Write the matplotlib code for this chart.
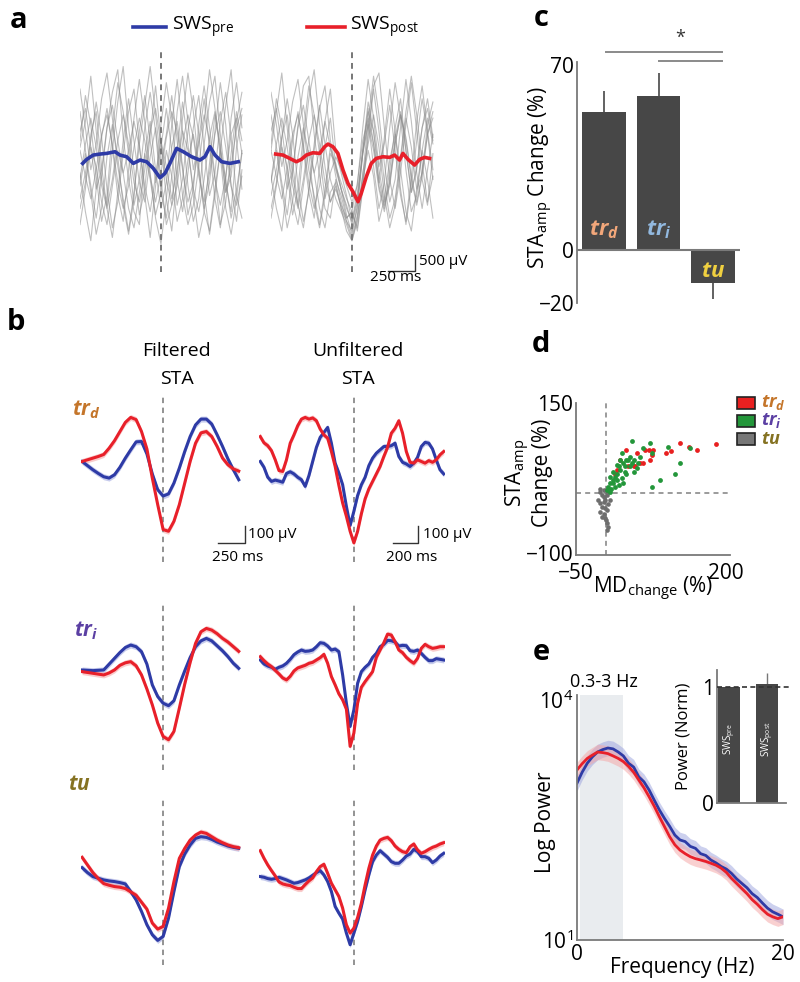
import numpy as np
import matplotlib
matplotlib.use("Agg")
import matplotlib.pyplot as plt
import matplotlib.patches as mpatches

plt.rcParams['font.family'] = ['Open Sans', 'DejaVu Sans']
plt.rcParams['mathtext.fontset'] = 'custom'
plt.rcParams['mathtext.rm'] = 'Open Sans'
plt.rcParams['mathtext.it'] = 'Open Sans:italic:bold'
plt.rcParams['mathtext.bf'] = 'Open Sans:bold'

# ---------------- data ----------------
# panel a: single-trial raw traces (uV) and their means, time in ms
t_a = np.arange(-750, 751, 50)
gray_pre = [
    [400, 1200, 2600, 900, -600, -1400, 300, 1800, 2900, 1000, -300, -1700, -900, 800, 2300, 600, -1200, -2200, -500, 1300, 2700, 1500, -200, -1500, -700, 900, 2400, 1100, -800, -1900, -300],
    [-1200, -400, 600, 1800, 700, -900, -2100, -1300, 200, 1500, 2200, 500, -1100, -2400, -800, 400, 1600, 300, -1400, -600, 900, 2000, 800, -1000, -2300, -1100, 300, 1700, 2800, 600, -900],
    [1500, 300, -800, -1800, -500, 1000, 2100, 2800, 700, -600, -1600, -2000, 200, 1200, -300, -1500, -700, 1100, 2500, 900, -800, -1900, -1200, 500, 1800, 2600, 800, -700, -1600, 400, 1400],
    [-400, -1600, -2500, -900, 700, 1600, 400, -1100, -1900, -300, 1300, 2500, 1200, -400, -1800, -2600, -1200, 400, 1200, -200, -1700, -900, 1100, 2300, 1000, -500, -2000, -1300, 200, 1500, 600],
    [2200, 1000, -300, 500, 1900, 2700, 1300, -200, -1200, -2200, -1000, 500, 1700, 2900, 1400, -100, 800, 2000, 600, -1100, -2000, -1400, -200, 1200, 2800, 1600, 100, -1500, -2300, -1200, 300],
    [-2000, -900, 800, 1500, -200, -1500, -2400, -1000, 600, 1900, 600, -700, -1300, 100, 1000, -600, -2000, -1400, 300, 1800, 500, -1100, -2400, -1600, -100, 1400, 500, -1000, -500, 1200, 2100],
    [600, 2000, 1100, -500, -1900, -1100, 900, 2400, 1500, 200, -1400, -600, 1000, 2100, 900, -1000, -1800, -500, 1500, 2600, 1200, -300, 600, 1900, 400, -1200, -2100, -600, 1300, 2400, 1000],
    [-800, 200, -1000, -2300, -1500, 100, 1100, 100, -1400, -2300, -1200, 900, 2000, 600, -700, 1100, 2400, 1300, -600, -1600, -400, 1000, 2000, 400, -1100, -400, 1200, 2100, 700, -1100, -1800],
    [300, -500, -1200, -300, 800, 1400, 500, -700, -1500, -800, 400, 1300, 600, -500, -1300, -400, 700, 1500, 900, -300, -1300, -700, 500, 1400, 600, -600, -1400, -500, 800, 1300, 200],
    [-600, 500, 1300, 400, -800, -1500, -600, 600, 1400, 500, -700, -1300, -300, 900, 1600, 500, -600, -1400, -800, 500, 1400, 700, -500, -1300, -400, 800, 1500, 400, -800, -1400, -500],
    [900, 1600, 400, -900, -300, 1000, 1700, 600, -400, 300, 1200, 400, -800, -1600, -500, 600, -200, -1200, -300, 900, 300, -900, -1600, -600, 700, 1500, 300, -1000, -200, 1000, 1600],
    [-1500, -700, 400, -200, -1300, -2000, -800, 300, -400, -1500, -2100, -1000, 200, -600, -1700, -1000, 300, -500, -1900, -1200, 0, 800, -300, -1600, -2200, -900, 300, -600, -1800, -900, 200],
]
gray_post = [
    [300, 1500, 2700, 1000, -500, -1400, 400, 1900, 2800, 1100, -200, -1300, -800, -1500, -1900, -2400, -1700, -500, 1200, 2600, 1400, -100, -1300, -600, 1000, 2500, 1200, -400, -1500, -300, 800],
    [-1100, -300, 700, 1900, 800, -800, -1900, -1000, 300, 1600, 2300, 600, -300, -900, -1400, -2000, -1300, 300, 1800, 900, -700, 700, 2200, 900, -900, -2000, -800, 600, 1900, 800, -600],
    [1400, 400, -700, -1700, -400, 1100, 2300, 2600, 800, -500, -1500, -1800, -600, -1100, -1800, -1600, -2200, -900, 900, 2300, 2700, 1000, -600, -1500, -400, 1100, 2400, 900, -600, -1400, 200],
    [-500, -1500, -2200, -800, 600, 1500, 300, -1000, -1800, -200, 1200, 2200, 300, -400, -1100, -1900, -1000, 200, 1200, -200, -1500, -700, 1000, 2400, 1300, -300, -1600, -1100, 300, 1300, 500],
    [2100, 1100, -200, 600, 1800, 2500, 1100, -300, -1100, -2000, -900, 400, -200, -700, -1200, -1600, -2100, -800, 700, 2200, 900, -700, -1800, -1200, 100, 1500, 2600, 1400, -100, -1300, -500],
    [-1800, -800, 700, 1400, -100, -1400, -2100, -900, 500, 1700, 500, -600, -1200, -1600, -2000, -2500, -1800, -400, 500, 1400, 400, -1100, -2100, -1400, 0, 1300, 400, -900, -400, 1100, 1800],
    [500, 1900, 1000, -400, -1700, -900, 800, 2300, 1400, 200, -1200, -400, 100, -300, -800, -1300, -800, 1000, 2500, 1300, -200, 500, 1700, 300, -1100, -1900, -500, 1200, 2300, 900, -300],
    [-700, 300, -900, -2100, -1300, 100, 1000, 200, -1300, -2100, -1100, 200, -100, -900, -1700, -2300, -1400, 200, 1600, 500, -800, -1500, -300, 1000, 1900, 300, -1000, -300, 1000, 1900, 700],
    [300, -500, -1200, -300, 800, 1400, 500, -700, -1500, -800, 400, 1300, -200, -900, -1500, -1900, -1200, 300, 1500, 900, -300, -1300, -700, 500, 1400, 600, -600, -1400, -500, 800, 1300],
    [-600, 500, 1300, 400, -800, -1500, -600, 600, 1400, 500, -700, -1300, -900, -1400, -1800, -1600, -700, 600, 1300, 500, -600, -1400, -800, 500, 1400, 700, -500, -1300, -400, 800, 1500],
    [900, 1600, 400, -900, -300, 1000, 1700, 600, -400, 300, 1200, 400, -500, -1300, -1900, -2200, -1500, 200, 1100, 300, -900, -1600, -600, 700, 1500, 300, -1000, -200, 1000, 1600, 600],
    [-1500, -700, 400, -200, -1300, -2000, -800, 300, -400, -1500, -2100, -1000, -700, -1500, -2200, -2500, -1900, -600, 300, -500, -1900, -1200, 0, 800, -300, -1600, -2200, -900, 300, -600, -1800],
]
mean_pre_t = [-725, -688, -627, -565, -503, -426, -380, -318, -256, -194, -133, -71, -9, 37, 83, 145, 207, 284, 361, 407, 454, 500, 562, 639, 716]
mean_pre_v = [-103, 21, 155, 186, 207, 258, 155, 103, -103, 0, -52, -258, -548, -413, -103, 362, 258, 103, 0, 103, 413, 155, -52, -103, -52]
mean_post_t = [-707, -639, -577, -515, -469, -423, -361, -299, -253, -222, -176, -130, -83, -37, 9, 56, 86, 133, 179, 225, 287, 349, 395, 441, 472, 519, 580, 627, 673, 719]
mean_post_v = [186, 155, 52, -52, 21, 155, 227, 207, 413, 496, 413, 207, -310, -723, -981, -1291, -1033, -517, -103, 52, 103, 83, 155, 0, 207, 21, -155, 21, 83, 52]

# panel b: STA waveforms (uV), filtered and unfiltered, SWSpre (blue) / SWSpost (red)
t_filt = np.arange(-750, 701, 50)
t_unf = np.arange(-750, 721, 30)
rows = ['trd', 'tri', 'tu']
filt_pre = {
    'trd': [0, -25, -50, -72, -92, -100, -80, -35, 20, 70, 118, 120, 45, -75, -170, -208, -195, -130, -40, 60, 150, 220, 255, 255, 225, 160, 90, 15, -50, -110],
    'tri': [0, -2, -4, -2, 0, 35, 70, 105, 135, 150, 140, 110, 35, -90, -160, -200, -215, -185, -90, -5, 75, 140, 175, 190, 175, 145, 115, 80, 40, 10],
    'tu': [94, 64, 40, 30, 20, 14, 10, 4, -4, -50, -100, -170, -250, -310, -344, -320, -210, -50, 100, 176, 230, 270, 280, 276, 264, 248, 236, 224, 216, 210],
}
filt_post = {
    'trd': [0, 10, 20, 30, 42, 80, 125, 180, 235, 265, 252, 180, 75, -100, -260, -410, -420, -360, -260, -130, 0, 110, 172, 180, 150, 90, 20, -20, -45, -58],
    'tri': [-10, -15, -20, -25, -30, -18, 0, 28, 43, 50, 25, -30, -115, -210, -320, -400, -420, -370, -230, -85, 45, 160, 230, 250, 240, 218, 190, 168, 140, 112],
    'tu': [156, 110, 64, 28, -2, -12, -20, -24, -32, -52, -72, -114, -156, -240, -276, -260, -150, 10, 150, 210, 260, 290, 308, 300, 280, 260, 244, 230, 220, 214],
}
unf_pre = {
    'trd': [0, -35, -95, -120, -112, -118, -125, -72, -62, -75, -95, -110, -150, -85, 0, 85, 145, 175, 205, 110, -10, -70, -140, -270, -385, -300, -205, -140, -95, -25, 20, 50, 70, 90, 90, 95, 110, 30, -5, -15, -30, -10, 25, 90, 115, 110, 75, 10, -50, -75],
    'tri': [60, 36, 24, 16, 4, 16, 24, 40, 64, 92, 108, 120, 112, 114, 120, 140, 164, 160, 144, 120, 126, 110, -30, -200, -340, -240, -80, -10, 16, 36, 76, 100, 140, 154, 178, 176, 168, 144, 148, 146, 116, 112, 120, 100, 76, 56, 56, 68, 64, 60],
    'tu': [40, 36, 28, 24, 28, 36, 28, 20, 10, 0, 4, 12, 20, 32, 48, 64, 76, 50, 10, -50, -140, -180, -216, -300, -370, -300, -230, -140, -40, 50, 130, 170, 196, 176, 156, 130, 120, 120, 140, 164, 176, 204, 190, 160, 160, 150, 124, 140, 164, 180],
}
unf_post = {
    'trd': [150, 112, 95, 65, 10, -55, -60, 10, 110, 160, 215, 255, 265, 255, 262, 245, 195, 160, 140, 60, -30, -145, -250, -330, -420, -490, -420, -315, -225, -165, -120, -75, -30, 30, 85, 170, 200, 245, 170, 60, -5, -10, 10, 0, -10, 5, -5, 10, 40, 60],
    'tri': [80, 56, 36, 20, -2, -24, -48, -60, -38, -6, 12, 20, 28, 40, 46, 60, 74, 94, 40, -40, -90, -144, -180, -236, -460, -380, -200, -104, -70, -40, -10, 76, 120, 164, 216, 210, 170, 120, 104, 76, 56, 40, 70, 130, 154, 140, 130, 134, 140, 140],
    'tu': [196, 150, 110, 76, 44, 8, -4, -10, -14, -24, -32, -32, -8, 14, 32, 70, 100, 114, 60, 0, -40, -80, -150, -250, -300, -270, -206, -120, -10, 90, 170, 224, 260, 270, 276, 256, 224, 204, 190, 184, 220, 236, 200, 180, 190, 204, 216, 224, 236, 244],
}
sem_uv = 18

# panel c: STA amplitude change (%)
c_groups = ['trd', 'tri', 'tu']
c_mean = [52, 58, -12.5]
c_err = [8, 9, 6]

# panel d: MD change vs STA amp change (%)
trd_x = [184, 152, 138, 123, 101, 109, 76, 79, 71, 73, 65, 51, 48, 57, 46, 34, 23, 18, 15, 62, 37]
trd_y = [82, 72, 77, 83, 66, 69, 63, 72, 72, 55, 72, 66, 44, 49, 44, 72, 55, 38, 32, 49, 44]
tri_x = [43, 73, 104, 140, 123, 115, 90, 76, 76, 62, 57, 54, 46, 40, 34, 32, 29, 23, 21, 18, 15, 12, 7, 4, 7, 12, 18, 23, 26, 29, 21, 15, 9, 18, 26, 34, 40, 46, 51, 1, 7, 12, 37, 43, 32]
tri_y = [86, 83, 77, 74, 49, 32, 21, 10, 66, 74, 60, 49, 55, 60, 55, 44, 49, 55, 44, 32, 27, 21, 16, 10, 27, 35, 46, 38, 24, 16, 13, 10, 7, 21, 66, 32, 44, 35, 41, 4, 2, 16, 55, 49, 35]
tu_x = [-10, -7, -4, -13, -10, -4, -7, -2, -10, -4, 1, -7, -2, 1, 4, 1, 0, 4, 7, 1, -4, -10, 2, -2]
tu_y = [2, -4, -7, -12, -17, -15, -24, -26, -32, -35, -29, -40, -43, -51, -57, -63, -46, -18, -12, -1, 4, 7, -4, -12]

# panel e: power spectra
freq = np.arange(0, 20.01, 0.5)
pow_pre = [912, 1250, 1622, 1950, 2239, 2400, 2512, 2450, 2239, 2000, 1622, 1450, 1096, 950, 750, 560, 422, 330, 263, 205,
           178, 170, 148, 140, 120, 114, 100, 92, 83, 77, 68, 58, 51, 45, 38, 34, 29, 25, 22.5, 21, 19.5]
pow_post = [1334, 1600, 1862, 2050, 2239, 2200, 2138, 2000, 1862, 1700, 1479, 1250, 1000, 800, 617, 470, 347, 260, 195, 155,
            133, 120, 110, 104, 100, 96, 91, 86, 79, 70, 59, 51, 44, 38, 32, 28, 24, 21, 19.5, 18.5, 19.5]
inset_labels = ['SWS$_{\\mathrm{pre}}$', 'SWS$_{\\mathrm{post}}$']
inset_vals = [1.0, 1.03]
inset_err = [0.01, 0.09]

# ---------------- styling ----------------
BLUE = '#2E3BA6'
RED = '#E8202A'
LBLUE = '#9AA2DE'
LRED = '#F5A3A3'
GRAYDASH = '#8a8a8a'
BAR = '#474747'
lab_col = {'trd': '#C4752A', 'tri': '#5B3FA3', 'tu': '#857222'}
lab_txt = {'trd': '$tr_{d}$', 'tri': '$tr_{i}$', 'tu': '$tu$'}

W, H = 800, 982
fig = plt.figure(figsize=(8, 9.82), dpi=100)


def box(x0, y0, x1, y1):
    return [x0 / W, 1 - y1 / H, (x1 - x0) / W, (y1 - y0) / H]


def ftext(x, y, s, **kw):
    fig.text(x / W, 1 - y / H, s, **kw)


# panel labels
for lab, (x, y) in zip('abcde', [(19, 20), (16, 322), (541, 18), (541, 345), (541, 652)]):
    ftext(x, y, lab, fontsize=21, fontweight='bold', ha='center', va='center')

# ---------------- panel a ----------------
for x0, gray, mt, mv, col in [(80, gray_pre, mean_pre_t, mean_pre_v, BLUE),
                              (271, gray_post, mean_post_t, mean_post_v, RED)]:
    ax = fig.add_axes(box(x0, 52, x0 + 163, 272))
    for tr in gray:
        ax.plot(t_a, tr, color='#8c8c8c', lw=0.8, alpha=0.55)
    ax.axvline(0, color='#777777', lw=1.4, dashes=(3, 2.5))
    ax.plot(mt, mv, color=col, lw=2.6)
    ax.set_xlim(-750, 760)
    ax.set_ylim(-3470, 3350)
    ax.axis('off')
    axa_last = ax

# scale bar (right block)
axa_last.plot([333, 583, 583], [-3430, -3430, -2930], color='#333333', lw=1, clip_on=False)
axa_last.text(620, -3150, '500 µV', fontsize=11, ha='left', va='center')
axa_last.text(400, -3650, '250 ms', fontsize=11, ha='center', va='center')

# legend
fig.add_artist(plt.Line2D([133 / W, 166 / W], [1 - 27 / H] * 2, color=BLUE, lw=2.6))
ftext(172, 27, 'SWS$_{\\mathrm{pre}}$', fontsize=14, ha='left', va='center')
fig.add_artist(plt.Line2D([307 / W, 345 / W], [1 - 27 / H] * 2, color=RED, lw=2.6))
ftext(350, 27, 'SWS$_{\\mathrm{post}}$', fontsize=14, ha='left', va='center')

# ---------------- panel b ----------------
ftext(177, 351, 'Filtered', fontsize=14, ha='center', va='center')
ftext(177, 379, 'STA', fontsize=14, ha='center', va='center')
ftext(358, 351, 'Unfiltered', fontsize=14, ha='center', va='center')
ftext(358, 379, 'STA', fontsize=14, ha='center', va='center')

row_y = {'trd': (395, 562, (-605, 400)), 'tri': (604, 770, (-602, 397)), 'tu': (800, 965, (-492, 501))}
lab_pos = {'trd': (86, 410), 'tri': (86, 631), 'tu': (79, 785)}
for r in rows:
    y0, y1, ylim = row_y[r]
    axf = fig.add_axes(box(81, y0, 242, y1))
    axu = fig.add_axes(box(259, y0, 445, y1))
    for ax, t, pre, post in [(axf, t_filt, filt_pre[r], filt_post[r]),
                             (axu, t_unf, unf_pre[r], unf_post[r])]:
        pre = np.array(pre)
        post = np.array(post)
        ax.axvline(0, color=GRAYDASH, lw=1.3, dashes=(3, 2.5))
        ax.fill_between(t, pre - sem_uv, pre + sem_uv, color=LBLUE, alpha=0.55, lw=0)
        ax.fill_between(t, post - sem_uv, post + sem_uv, color=LRED, alpha=0.55, lw=0)
        ax.plot(t, pre, color=BLUE, lw=2.2)
        ax.plot(t, post, color=RED, lw=2.2)
        ax.set_xlim(-760, 730)
        ax.set_ylim(*ylim)
        ax.axis('off')
    x, y = lab_pos[r]
    ftext(x, y, lab_txt[r], fontsize=15, color=lab_col[r], ha='center', va='center')
    if r == 'trd':
        axf.plot([510, 760, 760], [-490, -490, -390], color='#333333', lw=1, clip_on=False)
        axf.text(790, -440, '100 µV', fontsize=11, ha='left', va='center')
        axf.text(685, -577, '250 ms', fontsize=11, ha='center', va='center')
        axu.plot([312, 512, 512], [-490, -490, -390], color='#333333', lw=1, clip_on=False)
        axu.text(550, -440, '100 µV', fontsize=11, ha='left', va='center')
        axu.text(464, -577, '200 ms', fontsize=11, ha='center', va='center')

# ---------------- panel c ----------------
axc = fig.add_axes(box(577, 62, 740, 303))
xc = np.arange(len(c_groups))
axc.bar(xc, c_mean, width=0.8, color=BAR, zorder=2)
lo = [0 if m > 0 else e for m, e in zip(c_mean, c_err)]
hi = [e if m > 0 else 0 for m, e in zip(c_mean, c_err)]
axc.errorbar(xc, c_mean, yerr=[lo, hi], fmt='none', ecolor='#555555', elinewidth=1.3, capsize=0, zorder=1)
axc.axhline(0, color='#7a7a7a', lw=1.5, zorder=3)
axc.set_xlim(-0.5, 2.5)
axc.set_ylim(-20, 71)
axc.set_yticks([-20, 0, 70])
axc.set_xticks([])
axc.tick_params(axis='y', length=0, labelsize=15, pad=2)
for s in ['top', 'right', 'bottom']:
    axc.spines[s].set_visible(False)
axc.spines['left'].set_color('#7a7a7a')
axc.spines['left'].set_linewidth(1.3)
c_txt_col = {'trd': '#F2A77A', 'tri': '#92B9E0', 'tu': '#F0D040'}
for i, g in enumerate(c_groups):
    yy = 7.5 if c_mean[i] > 0 else -8
    axc.text(i, yy, lab_txt[g], fontsize=16, color=c_txt_col[g], ha='center', va='center', zorder=4)
axc.plot([0.04, 2.17], [74.8, 74.8], color='#8a8a8a', lw=1.4, clip_on=False)
axc.plot([1.0, 2.17], [71.2, 71.2], color='#8a8a8a', lw=1.4, clip_on=False)
axc.text(1.39, 80, '*', fontsize=13, ha='center', va='center', color='#333333')
ftext(541, 178, 'STA$_{\\mathrm{amp}}$ Change (%)', fontsize=15, rotation=90, ha='center', va='center')

# ---------------- panel d ----------------
axd = fig.add_axes(box(576, 403, 730, 555))
axd.axvline(0, color=GRAYDASH, lw=1.2, dashes=(3, 2.5), zorder=1)
axd.axhline(0, color=GRAYDASH, lw=1.2, dashes=(3, 2.5), zorder=1)
axd.scatter(tu_x, tu_y, s=11, color='#6e6e6e', zorder=2, lw=0)
axd.scatter(trd_x, trd_y, s=12, color='#E82020', zorder=3, lw=0)
axd.scatter(tri_x, tri_y, s=12, color='#23963A', zorder=3, lw=0)
axd.set_xlim(-50, 207)
axd.set_ylim(-104, 150)
axd.set_xticks([-50, 200])
axd.set_yticks([-100, 150])
axd.tick_params(axis='y', length=0, labelsize=15, pad=2)
axd.tick_params(axis='x', length=0, labelsize=15, pad=6)
for s in ['top', 'right']:
    axd.spines[s].set_visible(False)
for s in ['left', 'bottom']:
    axd.spines[s].set_color('#7a7a7a')
    axd.spines[s].set_linewidth(1.3)
ftext(528, 473, 'STA$_{\\mathrm{amp}}$\nChange (%)', fontsize=15, rotation=90, ha='center', va='center',
      linespacing=1.0, multialignment='center')
ftext(653, 589, 'MD$_{\\mathrm{change}}$ (%)', fontsize=15, ha='center', va='center')
leg_col = {'trd': '#E82020', 'tri': '#23963A', 'tu': '#777777'}
for g, yc in zip(rows, [403, 421, 439]):
    fig.add_artist(mpatches.Rectangle((737 / W, 1 - (yc + 6) / H), 18 / W, 12 / H,
                                      facecolor=leg_col[g], edgecolor='#222222', lw=1.2,
                                      transform=fig.transFigure))
    ftext(761, yc, lab_txt[g], fontsize=13, color=lab_col[g], ha='left', va='center')

# ---------------- panel e ----------------
axe = fig.add_axes(box(577, 695, 783, 940))
axe.axvspan(0.3, 4.5, color='#E9ECEF', lw=0, zorder=0)
pp = np.array(pow_pre)
po = np.array(pow_post)
axe.fill_between(freq, pp / 1.25, pp * 1.25, color=LBLUE, alpha=0.5, lw=0, zorder=1)
axe.fill_between(freq, po / 1.25, po * 1.25, color=LRED, alpha=0.5, lw=0, zorder=1)
axe.plot(freq, pp, color=BLUE, lw=2, zorder=2)
axe.plot(freq, po, color=RED, lw=2, zorder=2)
axe.set_yscale('log')
axe.set_xlim(0, 20)
axe.set_ylim(10, 11550)
axe.set_xticks([0, 20])
axe.set_yticks([10, 10000])
axe.set_yticklabels(['10$^{1}$', '10$^{4}$'])
axe.minorticks_off()
axe.tick_params(length=0, labelsize=15, pad=3)
for s in ['top', 'right']:
    axe.spines[s].set_visible(False)
for s in ['left', 'bottom']:
    axe.spines[s].set_color('#7a7a7a')
    axe.spines[s].set_linewidth(1.3)
ftext(604, 682, '0.3-3 Hz', fontsize=13, ha='center', va='center')
ftext(545, 822, 'Log Power', fontsize=15, rotation=90, ha='center', va='center')
ftext(682, 967, 'Frequency (Hz)', fontsize=15, ha='center', va='center')

# inset
axi = fig.add_axes(box(717, 670, 786, 803))
xi = np.arange(len(inset_vals))
axi.bar(xi, inset_vals, width=0.58, color=BAR, zorder=2)
axi.errorbar(xi, inset_vals, yerr=[[0, 0], inset_err], fmt='none', ecolor='#777777', elinewidth=1, capsize=0, zorder=1)
axi.plot([-0.32, 1.62], [1, 1], color='#333333', lw=1.2, dashes=(3, 2), clip_on=False, zorder=3)
axi.set_xlim(-0.32, 1.5)
axi.set_ylim(0, 1.147)
axi.set_xticks([])
axi.set_yticks([0, 1])
axi.tick_params(length=0, labelsize=15, pad=2)
for s in ['top', 'right']:
    axi.spines[s].set_visible(False)
for s in ['left', 'bottom']:
    axi.spines[s].set_color('#7a7a7a')
    axi.spines[s].set_linewidth(1.3)
for i, lab in enumerate(inset_labels):
    axi.text(i, 0.55, lab, rotation=90, color='white', fontsize=7, ha='center', va='center')
ftext(683, 736, 'Power (Norm)', fontsize=12, rotation=90, ha='center', va='center')

fig.savefig('out.png', dpi=100, facecolor='white')
